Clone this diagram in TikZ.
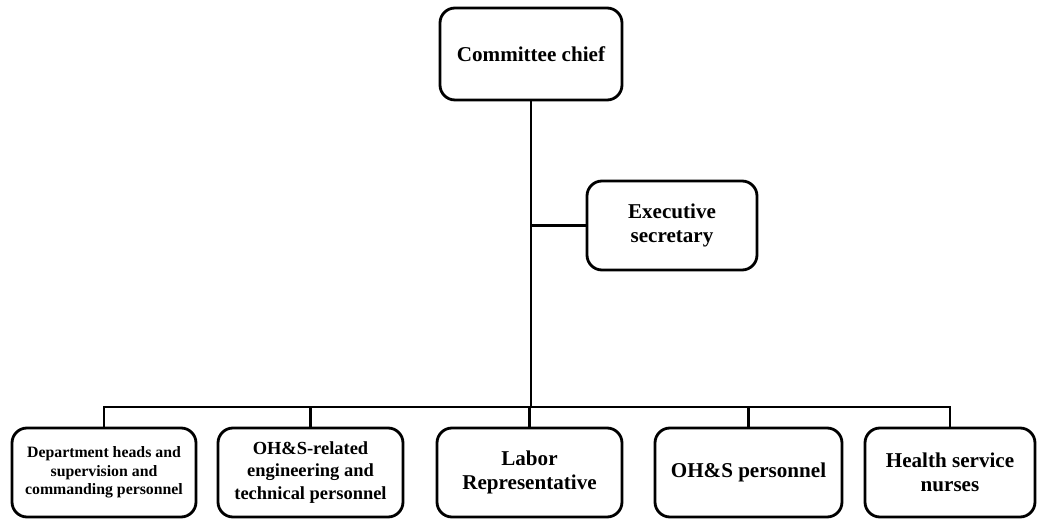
\documentclass[tikz,border=0pt]{standalone}
\usepackage{fontspec}
\setmainfont{Liberation Serif}
\usetikzlibrary{calc,positioning}

\begin{document}
\begin{tikzpicture}[box/.style={draw, line width=1.6pt, rounded corners=0.3cm, align=center,
        font=\bfseries\fontsize{12}{14}\selectfont, minimum height=1.78cm, inner sep=2pt},
    link/.style={line width=1.6pt}]
        \useasboundingbox (0,0) rectangle (20.78,10.4);
        \node[box, minimum width=3.64cm, minimum height=1.84cm] (chief) at (10.62,9.32) {Committee chief};
        \node[box, minimum width=3.4cm] (sec) at (13.44,5.89) {Executive\\secretary};
        \node[box, minimum width=3.68cm, font=\bfseries\fontsize{9}{10.4}\selectfont] (dept) at (2.08,0.95)
            {Department heads and\\supervision and\\commanding personnel};
        \node[box, minimum width=3.7cm, font=\bfseries\fontsize{10.5}{12.7}\selectfont] (eng) at (6.21,0.95)
            {OH\&S-related\\engineering and\\technical personnel};
        \node[box, minimum width=3.7cm] (labor) at (10.59,0.95) {Labor\\Representative};
        \node[box, minimum width=3.74cm] (ohs) at (14.97,0.95) {OH\&S personnel};
        \node[box, minimum width=3.4cm] (nurse) at (19.0,0.95) {Health service\\nurses};
        \coordinate (bar) at (10.6,2.26);
        \draw[link] (chief.south) -- (chief.south |- bar);
        \draw[link] (chief.south |- sec.west) -- (sec.west);
        \draw[link] (dept.north) |- (nurse.north |- bar) -- (nurse.north);
        \foreach \n in {eng,labor,ohs}
        \draw[link] (\n.north) -- (\n.north |- bar);
    \end{tikzpicture}
\end{document}
